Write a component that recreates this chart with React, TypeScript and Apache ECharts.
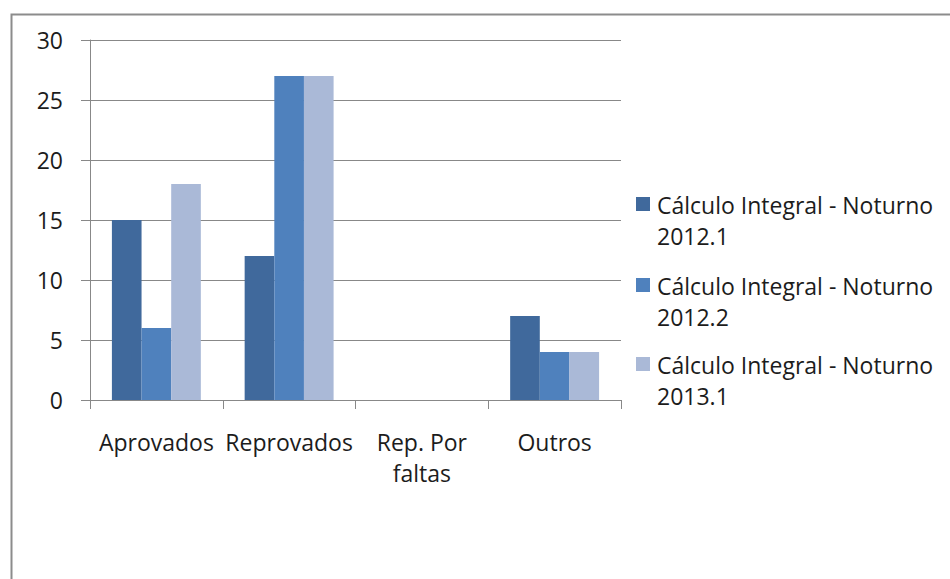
import React, { useEffect, useRef } from "react";
import * as echarts from "echarts";

const categories = ["Aprovados", "Reprovados", "Rep. Por\nfaltas", "Outros"];
const seriesNames = [
  "Cálculo Integral - Noturno\n2012.1",
  "Cálculo Integral - Noturno\n2012.2",
  "Cálculo Integral - Noturno\n2013.1",
];
const values2012_1 = [15, 12, 0, 7];
const values2012_2 = [6, 27, 0, 4];
const values2013_1 = [18, 27, 0, 4];
const yTicks = { min: 0, max: 30, interval: 5 };

const colors = ["#40699C", "#4F81BD", "#AAB9D7"];
const FONT = "'Open Sans', 'DejaVu Sans', sans-serif";
const TEXT = "#1c1c1c";
const LINE = "#888888";
const FS = 23;

// Legend drawn as graphic items so the swatch sits beside the first text line
const legendX = 636;
const legendRows = [204, 285, 364];

function legendGraphics() {
  const out: any[] = [];
  seriesNames.forEach((name, i) => {
    const cy = legendRows[i];
    out.push({
      type: "rect",
      x: legendX,
      y: cy - 7,
      shape: { width: 14, height: 14 },
      style: { fill: colors[i] },
      silent: true,
    });
    out.push({
      type: "text",
      x: legendX + 21,
      y: cy - 15,
      style: {
        text: name,
        fontFamily: FONT,
        fontSize: FS,
        lineHeight: 31,
        fill: TEXT,
        verticalAlign: "top",
        align: "left",
      },
      silent: true,
    });
  });
  return out;
}

export default function App() {
  const ref = useRef<HTMLDivElement>(null);

  useEffect(() => {
    if (!ref.current) return;
    const chart = echarts.init(ref.current, undefined, { renderer: "svg" });
    const data = [values2012_1, values2012_2, values2013_1];
    chart.setOption({
      animation: false,
      backgroundColor: "#ffffff",
      color: colors,
      textStyle: { fontFamily: FONT },
      grid: { left: 90, right: 329, top: 40, bottom: 179, containLabel: false },
      legend: { show: false },
      xAxis: {
        type: "category",
        data: categories,
        axisLine: { lineStyle: { color: LINE, width: 1 } },
        axisTick: { show: true, length: 9, lineStyle: { color: LINE } },
        axisLabel: {
          fontFamily: FONT,
          fontSize: FS,
          color: TEXT,
          lineHeight: 31,
          margin: 26,
          interval: 0,
        },
      },
      yAxis: {
        type: "value",
        min: yTicks.min,
        max: yTicks.max,
        interval: yTicks.interval,
        axisLine: { show: true, lineStyle: { color: LINE, width: 1 } },
        axisTick: { show: true, length: 9, lineStyle: { color: LINE } },
        splitLine: { show: true, lineStyle: { color: LINE, width: 1 } },
        axisLabel: {
          fontFamily: FONT,
          fontSize: FS,
          color: TEXT,
          margin: 27,
        },
      },
      series: seriesNames.map((name, i) => ({
        name,
        type: "bar",
        data: data[i],
        barGap: "0%",
        barCategoryGap: "33%",
        itemStyle: { color: colors[i] },
      })),
      graphic: [
        {
          type: "rect",
          left: 9,
          top: 12,
          shape: { width: 1200, height: 1200 },
          style: { fill: "none", stroke: "#8c8c8c", lineWidth: 2 },
          silent: true,
        },
        ...legendGraphics(),
      ],
    });
    return () => chart.dispose();
  }, []);

  return (
    <div
      ref={ref}
      style={{ position: "fixed", left: 0, top: 0, width: 950, height: 579 }}
    />
  );
}
